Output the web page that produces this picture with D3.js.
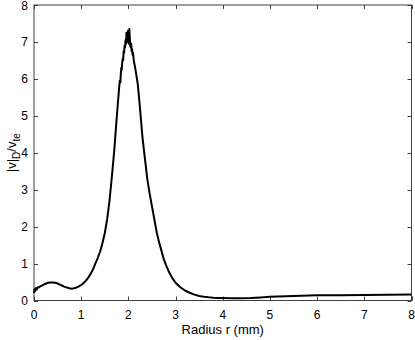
<!DOCTYPE html>
<html>
<head>
<meta charset="utf-8">
<script src="https://cdn.jsdelivr.net/npm/d3@7"></script>
<style>
  html, body { margin: 0; padding: 0; background: #fff; }
  svg { display: block; }
  text { font-family: "Liberation Sans", Arial, Helvetica, sans-serif; fill: #000; }
</style>
</head>
<body>
<svg id="chart" width="415" height="340"></svg>
<script>
const radius = [0.00,0.01,0.02,0.04,0.06,0.08,0.10,0.14,0.18,0.22,0.26,0.30,0.35,0.40,0.45,0.50,0.55,0.60,0.65,0.70,0.75,0.80,0.85,0.90,0.95,1.00,1.05,1.10,1.15,1.20,1.25,1.30,1.35,1.40,1.45,1.50,1.55,1.60,1.65,1.70,1.75,
  1.80,1.81,1.82,1.83,1.84,1.85,1.86,1.87,1.88,1.89,1.90,1.91,1.92,1.93,1.94,1.95,1.96,1.97,1.98,1.99,2.00,2.01,2.02,2.03,2.04,2.05,2.06,2.07,2.08,2.09,2.10,2.11,2.12,2.13,2.15,
  2.20,2.25,2.30,2.35,2.40,2.45,2.50,2.55,2.60,2.65,2.70,2.75,2.80,2.85,2.90,2.95,3.00,3.10,3.20,3.30,3.40,3.50,3.60,3.70,3.80,3.90,4.00,4.20,4.40,4.60,4.80,5.00,5.50,6.00,6.50,7.00,7.50,8.00];
const vdRatio = [0.20,0.30,0.25,0.34,0.30,0.36,0.35,0.39,0.41,0.44,0.46,0.48,0.49,0.49,0.48,0.46,0.43,0.40,0.37,0.35,0.33,0.32,0.33,0.35,0.38,0.42,0.47,0.54,0.62,0.72,0.84,1.00,1.15,1.32,1.55,1.82,2.20,2.70,3.35,4.05,4.90,
  5.70,5.85,5.95,5.90,6.15,6.30,6.25,6.45,6.55,6.50,6.75,6.70,6.90,6.85,7.05,6.95,7.25,7.10,7.00,7.30,7.15,6.95,7.35,7.10,6.90,6.85,6.95,6.75,6.80,6.65,6.70,6.55,6.45,6.40,6.25,
  5.85,5.15,4.40,3.85,3.30,2.90,2.55,2.20,1.85,1.58,1.35,1.12,0.95,0.80,0.68,0.57,0.48,0.36,0.27,0.21,0.16,0.12,0.10,0.085,0.075,0.07,0.065,0.06,0.06,0.065,0.08,0.10,0.12,0.14,0.145,0.15,0.155,0.16];
const xTicks = [0,1,2,3,4,5,6,7,8];
const yTicks = [0,1,2,3,4,5,6,7,8];
const xLabel = "Radius r (mm)";

const svg = d3.select("#chart");
const L = 34, R = 411.5, T = 5, B = 300.5;
const x = d3.scaleLinear().domain([0, 8]).range([L, R]);
const y = d3.scaleLinear().domain([0, 8]).range([B, T]);
const axisColor = "#404040";

// box
svg.append("rect").attr("x", L).attr("y", T).attr("width", R - L).attr("height", B - T)
  .attr("fill", "none").attr("stroke", axisColor).attr("stroke-width", 1);

// ticks
const tl = 4;
const g = svg.append("g");
xTicks.forEach(t => {
  const px = Math.round(x(t)) + 0.5;
  g.append("line").attr("x1", px).attr("x2", px).attr("y1", B).attr("y2", B - tl).attr("stroke", axisColor);
  g.append("line").attr("x1", px).attr("x2", px).attr("y1", T).attr("y2", T + tl).attr("stroke", axisColor);
  g.append("text").attr("x", x(t)).attr("y", B + 18).attr("text-anchor", "middle")
    .attr("font-size", 12).text(t);
});
yTicks.forEach(t => {
  const py = Math.round(y(t)) + 0.5;
  g.append("line").attr("x1", L).attr("x2", L + tl).attr("y1", py).attr("y2", py).attr("stroke", axisColor);
  g.append("line").attr("x1", R).attr("x2", R - tl).attr("y1", py).attr("y2", py).attr("stroke", axisColor);
  g.append("text").attr("x", L - 6).attr("y", y(t) + 4.5).attr("text-anchor", "end")
    .attr("font-size", 12).text(t);
});

// curve
const data = radius.map((r, i) => [r, vdRatio[i]]);
svg.append("path").datum(data)
  .attr("fill", "none").attr("stroke", "#000").attr("stroke-width", 2).attr("stroke-linejoin", "round")
  .attr("d", d3.line().x(d => x(d[0])).y(d => y(d[1])));

// labels
svg.append("text").attr("x", (L + R) / 2).attr("y", 334).attr("text-anchor", "middle")
  .attr("font-size", 13).text(xLabel);

const yl = svg.append("text").attr("transform", `translate(16,${(T + B) / 2}) rotate(-90)`)
  .attr("text-anchor", "middle").attr("font-size", 13);
yl.append("tspan").text("|v|");
yl.append("tspan").attr("font-size", 10).attr("dy", 4).text("D");
yl.append("tspan").attr("dy", -4).text("/v");
yl.append("tspan").attr("font-size", 10).attr("dy", 4).text("te");
</script>
</body>
</html>
